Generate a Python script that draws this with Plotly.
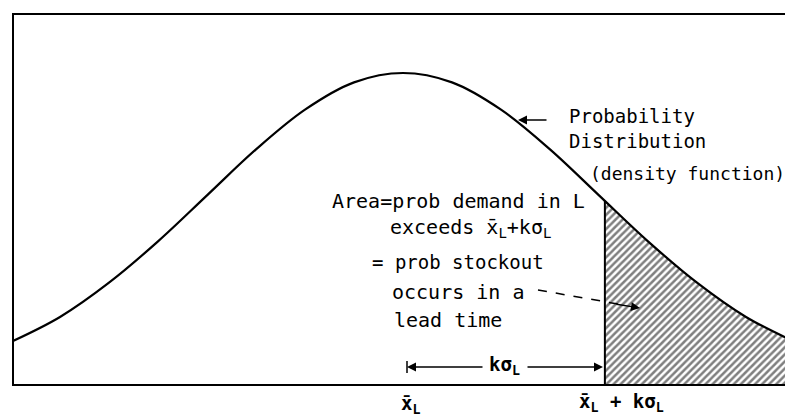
import plotly.graph_objects as go

# ---- data (z in sigma units, density values) ----
curve_z = [-2.0, -1.75, -1.5, -1.25, -1.0, -0.75, -0.5, -0.25, 0.0,
           0.25, 0.5, 0.75, 1.0, 1.25, 1.5, 1.75, 2.0]
curve_f = [0.054, 0.086, 0.130, 0.183, 0.242, 0.301, 0.352, 0.387, 0.399,
           0.387, 0.352, 0.301, 0.242, 0.183, 0.130, 0.086, 0.054]
k_value = 1.03
tail_z = [1.03, 1.25, 1.5, 1.75, 2.0]
tail_f = [0.235, 0.183, 0.130, 0.086, 0.054]

W, H = 785, 419
PL, PR, PT, PB = 14, 785, 15, 384   # plot-area edges in page pixels
MEAN_PX, SIG_PX = 403, 196
YTOP = 0.4734


def px_x(p):
    return (p - MEAN_PX) / SIG_PX


def px_y(p):
    return (PB - p) / (PB - PT) * YTOP


def paper_x(p):
    return (p - PL) / (PR - PL)


def paper_y(p):
    return (PB - p) / (PB - PT)


fig = go.Figure()
fig.add_trace(go.Scatter(
    x=tail_z, y=tail_f, mode="lines", line=dict(width=0, shape="spline"),
    fill="tozeroy", fillcolor="white",
    fillpattern=dict(shape="/", size=5, solidity=0.5, fgcolor="black", bgcolor="white"),
    hoverinfo="skip", showlegend=False))
fig.add_trace(go.Scatter(
    x=curve_z, y=curve_f, mode="lines",
    line=dict(color="black", width=2.2, shape="spline"),
    hoverinfo="skip", showlegend=False))

# vertical line at x̄L + kσL
fig.add_shape(type="line", x0=k_value, x1=k_value, y0=0, y1=tail_f[0],
              line=dict(color="black", width=2))
# gap in the axis under x̄L
fig.add_shape(type="line", x0=px_x(400), x1=px_x(415), y0=0, y1=0,
              line=dict(color="white", width=4), layer="above")

ann = []


def text(s, left, cy, size=19, weight="normal"):
    ann.append(dict(text=s, x=paper_x(left), y=paper_y(cy), xref="paper", yref="paper",
                    xanchor="left", yanchor="middle", showarrow=False,
                    font=dict(family="DejaVu Sans Mono", size=size, color="black",
                              weight=weight)))


text("Probability", 567, 116)
text("Distribution", 567, 141)
text("(density function)", 588, 173, 18)
text("Area=prob demand in L", 330, 201, 20)
text("exceeds x̄<sub>L</sub>+kσ<sub>L</sub>", 388, 228, 20)
text("= prob stockout", 370, 262)
text("occurs in a", 390, 292, 20)
text("lead time", 392, 320, 20)
text("kσ<sub>L</sub>", 487, 365, 19, "bold")
text("x̄<sub>L</sub>", 399, 404, 19, "bold")
text("x̄<sub>L</sub> + kσ<sub>L</sub>", 577, 402, 19, "bold")


def arrow(x_head, y_head, x_tail, y_tail):
    ann.append(dict(text="", x=px_x(x_head), y=px_y(y_head), ax=px_x(x_tail),
                    ay=px_y(y_tail), xref="x", yref="y", axref="x", ayref="y",
                    showarrow=True, arrowhead=2, arrowsize=1.2, arrowwidth=1.5,
                    arrowcolor="black"))


arrow(518, 120, 548, 120)
arrow(407, 367, 484, 367)
arrow(603, 367, 526, 367)
arrow(640, 308, 615, 304)
fig.add_shape(type="line", x0=px_x(538), y0=px_y(290), x1=px_x(618), y1=px_y(304),
              line=dict(color="black", width=1.5, dash="dash"))
fig.add_shape(type="line", x0=px_x(407), x1=px_x(407), y0=px_y(361), y1=px_y(373),
              line=dict(color="black", width=1.5))

fig.update_layout(
    width=W, height=H, autosize=False,
    margin=dict(l=PL, r=W - PR, t=PT, b=H - PB),
    paper_bgcolor="white", plot_bgcolor="white",
    annotations=ann,
    xaxis=dict(range=[px_x(PL), px_x(PR)], showline=True, linecolor="black",
               linewidth=2, mirror=True, showgrid=False, zeroline=False,
               showticklabels=False, ticks=""),
    yaxis=dict(range=[0, YTOP], showline=True, linecolor="black", linewidth=2,
               showgrid=False, zeroline=False, showticklabels=False, ticks=""),
)
fig.write_html("out.html", config={"displayModeBar": False},
               post_script="document.body.style.margin='0';"
                           "document.body.style.overflow='hidden';")
